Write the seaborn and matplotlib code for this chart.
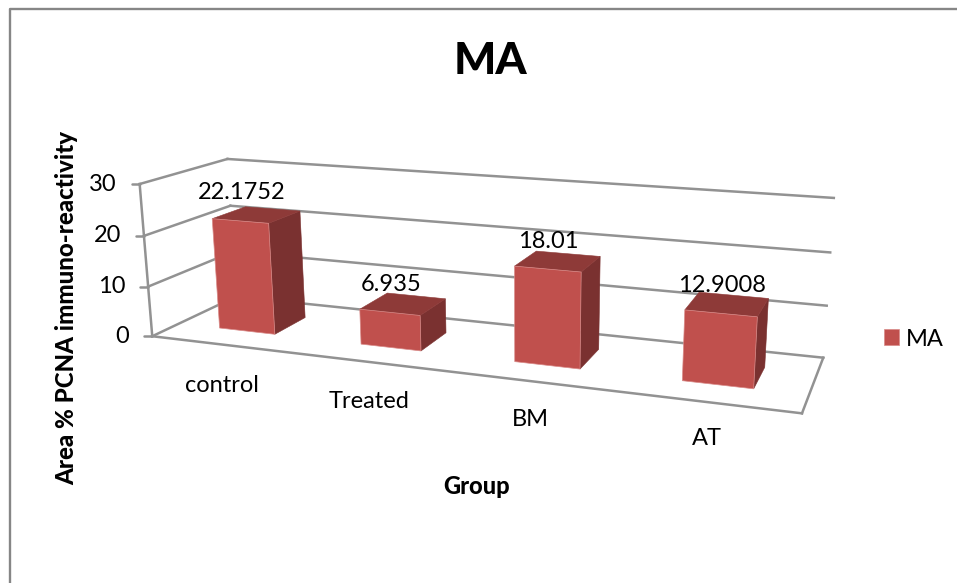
import numpy as np
import matplotlib
matplotlib.use("Agg")
import matplotlib.pyplot as plt
import seaborn as sns
from matplotlib.patches import Patch, Polygon
from matplotlib.transforms import IdentityTransform, Transform

groups = ["control", "Treated", "BM", "AT"]
area_pcna = [22.1752, 6.935, 18.01, 12.9008]
value_labels = ["22.1752", "6.935", "18.01", "12.9008"]
y_ticks = [0, 10, 20, 30]

W, H = 957, 583
FRONT = "#C0504D"
TOP = "#8E3A38"
SIDE = "#7A3130"
GRID = "#929292"
BAR_WIDTH = 0.4
DEPTH_NEAR, DEPTH_FAR = 0.3, 0.7
TEXT_SIZE = 17

# camera fitted on the frame of the 3d box: (category x, depth, value) -> image pixel
box_points = [
    ((-0.5, 0, 0), (152, 337)), ((3.5, 0, 0), (802, 413)),
    ((-0.5, 1, 0), (237, 296)), ((3.5, 1, 0), (823, 358)),
    ((-0.5, 0, 10), (148, 286)), ((-0.5, 0, 20), (143, 236)),
    ((-0.5, 0, 30), (141, 184)), ((-0.5, 1, 30), (227, 159)),
    ((3.5, 1, 10), (827, 306)), ((3.5, 1, 20), (830, 252)),
    ((3.5, 1, 30), (834, 198)), ((-0.5, 1, 20), (230, 206)),
]


def fit_camera(points):
    rows = []
    for (x, d, z), (u, v) in points:
        p = [x, d, z / 30, 1]
        u, v = u / 1000, v / 1000
        rows.append(p + [0, 0, 0, 0] + [-u * c for c in p])
        rows.append([0, 0, 0, 0] + p + [-v * c for c in p])
    return np.linalg.svd(np.array(rows))[2][-1].reshape(3, 4)


CAMERA = fit_camera(box_points)


def project(x, d, z):
    x, d, z = np.broadcast_arrays(x, d, z)
    p = np.stack([x, d, z / 30, np.ones_like(x, dtype=float)], axis=-1) @ CAMERA.T
    return np.stack([1000 * p[..., 0] / p[..., 2], H - 1000 * p[..., 1] / p[..., 2]], axis=-1)


class DepthPlane(Transform):
    # maps the (x, value) of a seaborn bar on a plane of constant depth
    input_dims = output_dims = 2
    is_affine = False

    def __init__(self, plane_depth):
        super().__init__()
        self.plane_depth = plane_depth

    def transform_non_affine(self, values):
        values = np.asarray(values, dtype=float)
        return project(values[:, 0], self.plane_depth, values[:, 1])


def box_line(ax, start, end, lw=1.8):
    xy = project(*np.array([start, end], dtype=float).T)
    ax.plot(xy[:, 0], xy[:, 1], color=GRID, lw=lw, transform=IdentityTransform(),
            clip_on=False, zorder=1, solid_capstyle="projecting")


def face(ax, corners, color):
    ax.add_patch(Polygon(project(*np.array(corners, dtype=float).T), closed=True, facecolor=color,
                         edgecolor=color, lw=0.4, transform=IdentityTransform(), clip_on=False, zorder=3))


def px_text(ax, x, y, s, **kw):
    ax.text(x, H - y, s, transform=IdentityTransform(), ha="center", va="center", clip_on=False, **kw)


sns.set_theme(style="white")
plt.rcParams["font.family"] = ["Lato", "DejaVu Sans"]
fig = plt.figure(figsize=(W / 100, H / 100), dpi=100)
ax = fig.add_axes([0, 0, 1, 1])
sns.barplot(x=groups, y=area_pcna, color=FRONT, saturation=1, width=BAR_WIDTH, ax=ax)
ax.axis("off")

# outer chart border
fig.add_artist(plt.Line2D([9.5 / W, 9.5 / W, 1], [0, 1 - 9 / H, 1 - 9 / H], color="#868686", lw=1.7))

# walls and floor
for t in y_ticks:
    box_line(ax, (-0.5, 1, t), (3.5, 1, t))
    box_line(ax, (-0.5, 0, t), (-0.5, 1, t))
    xy = project(-0.5, 0, t)
    ax.plot([xy[0] - 8, xy[0]], [xy[1], xy[1]], color=GRID, lw=1.8, transform=IdentityTransform(), clip_on=False)
    ax.text(xy[0] - 23, xy[1], str(t), transform=IdentityTransform(), ha="right", va="center",
            fontsize=TEXT_SIZE, color="black")
box_line(ax, (-0.5, 0, 0), (-0.5, 0, 30))
box_line(ax, (-0.5, 0, 0), (3.5, 0, 0))
box_line(ax, (3.5, 0, 0), (3.5, 1, 0))

for bar, i, v in zip(ax.patches, range(len(groups)), area_pcna):
    left, right = bar.get_x(), bar.get_x() + bar.get_width()
    top = bar.get_height()
    face(ax, [(right, DEPTH_NEAR, 0), (right, DEPTH_FAR, 0), (right, DEPTH_FAR, top), (right, DEPTH_NEAR, top)], SIDE)
    face(ax, [(left, DEPTH_NEAR, top), (right, DEPTH_NEAR, top), (right, DEPTH_FAR, top), (left, DEPTH_FAR, top)], TOP)
    bar.set_transform(DepthPlane(DEPTH_NEAR))
    bar.set_clip_on(False)
    bar.set_zorder(4)
    bar.set_edgecolor("#D98A88")
    bar.set_linewidth(0.5)
    xy = project(i, DEPTH_NEAR, v)
    ax.text(xy[0] + 1, xy[1] + 28, value_labels[i], transform=IdentityTransform(), ha="center", va="center",
            fontsize=TEXT_SIZE, color="black", zorder=5)
    # category labels sit on a slightly flatter line than the floor edge
    xy = project(i, -0.05, -6)
    ax.text(xy[0] + 2.5, xy[1] - (9 - 3 * i), groups[i], transform=IdentityTransform(), ha="center", va="center",
            fontsize=TEXT_SIZE, color="black")

px_text(ax, 490, 61, "MA", fontsize=32, fontweight=900, color="black")
px_text(ax, 67, 308, "Area % PCNA immuno-reactivity", fontsize=17.3, fontweight=900, rotation=90, color="black")
px_text(ax, 477, 487, "Group", fontsize=17, fontweight=900, color="black")

ax.legend(handles=[Patch(facecolor=FRONT, edgecolor="#D98A88", lw=0.5, label="MA")], loc="center left",
          bbox_to_anchor=(884 / W, 1 - 339 / H), frameon=False, fontsize=TEXT_SIZE, borderaxespad=0, borderpad=0,
          handlelength=0.63, handleheight=0.63, handletextpad=0.3, labelcolor="black")

fig.savefig("out.png", dpi=100, facecolor="white")
